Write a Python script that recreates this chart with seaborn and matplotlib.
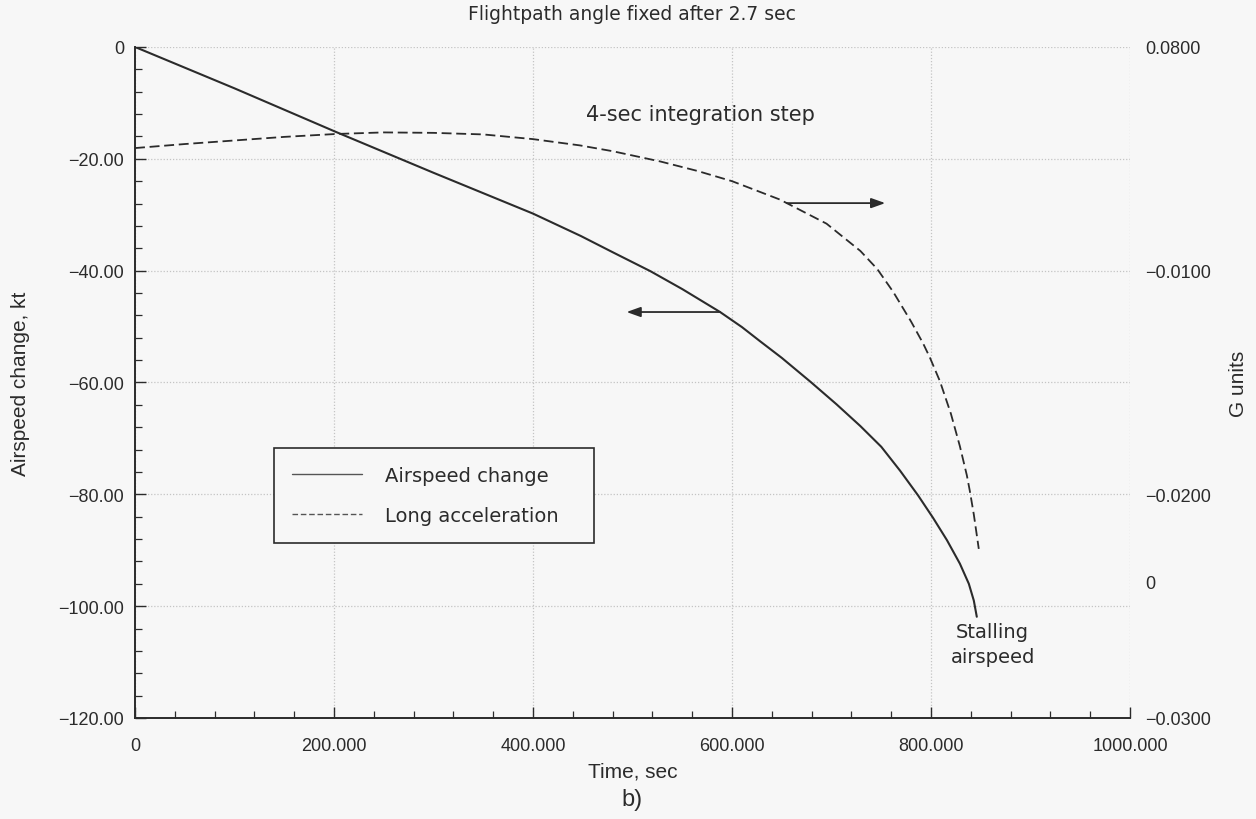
import numpy as np
import pandas as pd
import matplotlib
matplotlib.use("Agg")
import matplotlib.pyplot as plt
from matplotlib.ticker import FixedLocator, FixedFormatter, MultipleLocator
from matplotlib.lines import Line2D
import seaborn as sns

# Airspeed change (kt) versus time (sec)
t_speed = [0, 100, 202, 300, 400, 448, 480, 518, 550, 588, 610, 628, 650, 679, 705, 729,
           750, 769, 787, 802, 816, 829, 838, 843, 846]
airspeed_change = [0.0, -7.4, -15.2, -22.5, -29.8, -33.8, -36.7, -40.1, -43.3, -47.4, -50.1,
                   -52.6, -55.6, -59.9, -63.9, -67.8, -71.5, -75.8, -80.2, -84.2, -88.2,
                   -92.4, -96.0, -99.0, -101.9]

# Longitudinal acceleration (G units) versus time (sec)
t_accel = [0, 50, 100, 150, 202, 250, 300, 350, 400, 447, 480, 528, 565, 600, 648, 695,
           729, 746, 762, 780, 792, 799, 809, 820, 829, 836, 839, 843, 848]
long_accel = [-0.00452, -0.00434, -0.00418, -0.00402, -0.00389, -0.00382, -0.00384,
              -0.00391, -0.00412, -0.00440, -0.00466, -0.00512, -0.00554, -0.00600,
              -0.00682, -0.00790, -0.00912, -0.00993, -0.01095, -0.01228, -0.01325,
              -0.01390, -0.01495, -0.01640, -0.01785, -0.01915, -0.01985, -0.02090,
              -0.02244]

x_ticks = [0, 200, 400, 600, 800, 1000]
x_labels = ["0", "200.000", "400.000", "600.000", "800.000", "1000.000"]
y_ticks = [0, -20, -40, -60, -80, -100, -120]
y_labels = ["0", "\u221220.00", "\u221240.00", "\u221260.00", "\u221280.00", "\u2212100.00", "\u2212120.00"]
g_ticks = [0.0, -0.01, -0.02, -0.0239, -0.03]
g_labels = ["0.0800", "\u22120.0100", "\u22120.0200", "0", "\u22120.0300"]

speed_df = pd.DataFrame({"Time, sec": t_speed, "Airspeed change, kt": airspeed_change})
accel_df = pd.DataFrame({"Time, sec": t_accel, "G units": long_accel})

sns.set_theme(style="ticks")
bg = "#f7f7f7"
ink = "#2b2b2b"
plt.rcParams["font.family"] = ["Liberation Sans", "DejaVu Sans"]
plt.rcParams["axes.unicode_minus"] = True
wide = ["DejaVu Sans"]

fig = plt.figure(figsize=(12.56, 8.2), dpi=100, facecolor=bg)
ax = fig.add_axes([0.1075, 0.1232, 0.7922, 0.8183])
ax.set_facecolor(bg)
ax2 = ax.twinx()

sns.lineplot(data=speed_df, x="Time, sec", y="Airspeed change, kt", ax=ax,
             color=ink, linewidth=1.5, sort=False)
sns.lineplot(data=accel_df, x="Time, sec", y="G units", ax=ax2,
             color=ink, linewidth=1.3, sort=False)
ax2.lines[0].set_dashes((5.5, 2.6))

ax.set_xlim(0, 1000)
ax.set_ylim(-120, 0)
ax2.set_ylim(-0.03, 0)

# Primary axes ticks and grid
ax.xaxis.set_major_locator(FixedLocator(x_ticks))
ax.xaxis.set_major_formatter(FixedFormatter(x_labels))
ax.xaxis.set_minor_locator(MultipleLocator(40))
ax.yaxis.set_major_locator(FixedLocator(y_ticks))
ax.yaxis.set_major_formatter(FixedFormatter(y_labels))
ax.yaxis.set_minor_locator(MultipleLocator(4))
ax.tick_params(axis="both", which="major", direction="in", length=8, width=1.0,
               color=ink, labelsize=13, labelcolor=ink)
ax.tick_params(axis="y", which="major", pad=8)
ax.tick_params(axis="x", which="major", pad=14)
ax.tick_params(axis="both", which="minor", direction="in", length=5, width=0.9, color=ink)
ax.grid(True, which="major", linestyle=(0, (1, 1.5)), color="#c4c4c4", linewidth=0.9)
ax.set_axisbelow(True)

for side in ("top", "right"):
    ax.spines[side].set_visible(False)
    ax2.spines[side].set_visible(False)
for side in ("left", "bottom"):
    ax.spines[side].set_color(ink)
    ax.spines[side].set_linewidth(1.4)
ax2.spines["left"].set_visible(False)
ax2.spines["bottom"].set_visible(False)

# Secondary axis labels, no tick marks
ax2.yaxis.set_major_locator(FixedLocator(g_ticks))
ax2.yaxis.set_major_formatter(FixedFormatter(g_labels))
ax2.tick_params(axis="y", which="both", length=0, labelsize=13, labelcolor=ink, pad=11)
ax2.grid(False)

ax.set_xlabel("Time, sec", fontsize=15, color=ink, labelpad=5)
ax.set_ylabel("Airspeed change, kt", fontsize=15, color=ink, labelpad=20)
ax2.set_ylabel("G units", fontsize=15, color=ink, labelpad=13)

fig.text(0.503, 0.982, "Flightpath angle fixed after 2.7 sec", ha="center", va="center",
         fontsize=13.5, color=ink, family=wide)
fig.text(0.503, 0.024, "b)", ha="center", va="center", fontsize=17, color=ink)

# Annotations
ax.text(568, -12.0, "4-sec integration step", ha="center", va="center", fontsize=15,
        color=ink, family=wide)
ax.text(862, -106.8, "Stalling\nairspeed", ha="center", va="center", fontsize=14,
        color=ink, linespacing=1.4, family=wide)

arrow_kw = dict(arrowstyle="-|>,head_length=0.7,head_width=0.25", color=ink, lw=1.3,
                shrinkA=0, shrinkB=0)
t_left = 588
y_left = float(np.interp(t_left, t_speed, airspeed_change))
ax.annotate("", xy=(494, y_left), xytext=(t_left, y_left), arrowprops=arrow_kw)

t_right = 655
g_right = float(np.interp(t_right, t_accel, long_accel))
ax2.annotate("", xy=(754, g_right), xytext=(t_right, g_right), arrowprops=arrow_kw)

# Legend
handles = [Line2D([], [], color="#555555", lw=1.0),
           Line2D([], [], color="#555555", lw=1.0, dashes=(4, 2))]
leg = ax.legend(handles, ["Airspeed change", "Long acceleration"], loc="upper left",
                bbox_to_anchor=(0.1397, 0.262, 0.3216, 0.140), mode="expand",
                frameon=True, fancybox=False, prop={"family": wide, "size": 14},
                edgecolor=ink, facecolor=bg, framealpha=1, handlelength=3.6,
                handletextpad=1.2, borderpad=0.9, labelspacing=1.1, borderaxespad=0)
leg.get_frame().set_linewidth(1.2)
for txt in leg.get_texts():
    txt.set_color(ink)

fig.savefig("out.png", dpi=100, facecolor=bg)
